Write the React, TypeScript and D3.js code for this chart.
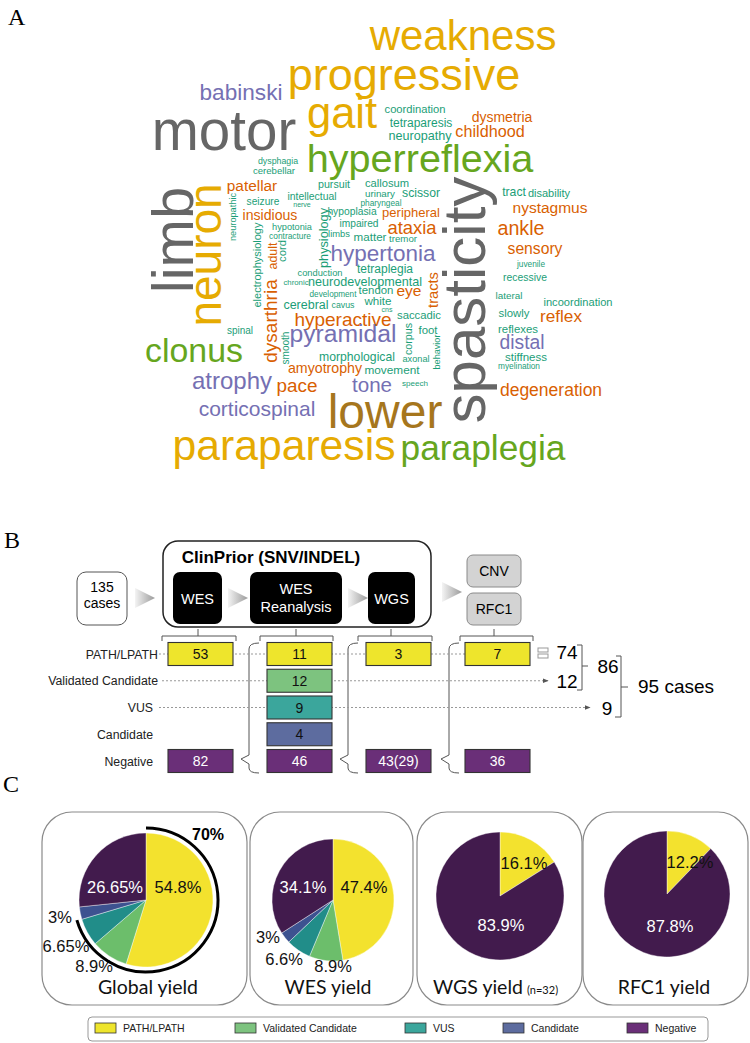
import React from "react";
import * as d3 from "d3";

const WIDTH = 750;
const HEIGHT = 1043;

// ---------------- Panel A : word cloud ----------------
const cloudWords = [
  "weakness", "progressive", "babinski", "motor", "gait", "hyperreflexia", "coordination", "tetraparesis",
  "neuropathy", "dysmetria", "childhood", "dysphagia", "cerebellar", "patellar", "pursuit", "callosum",
  "urinary", "scissor", "tract", "disability", "seizure", "intellectual", "nerve", "pharyngeal",
  "neuropathic", "insidious", "hypoplasia", "peripheral", "nystagmus", "impaired", "ataxia", "ankle",
  "hypotonia", "contracture", "physiology", "limbs", "matter", "tremor", "sensory", "hypertonia",
  "electrophysiology", "adult", "dysarthria", "cord", "juvenile", "tetraplegia", "conduction", "recessive",
  "chronic", "neurodevelopmental", "tracts", "development", "tendon", "eye", "lateral", "cerebral",
  "cavus", "white", "cns", "incoordination", "slowly", "reflex", "hyperactive", "saccadic",
  "spinal", "reflexes", "corpus", "foot", "behavior", "smooth", "pyramidal", "distal",
  "clonus", "morphological", "axonal", "stiffness", "myelination", "amyotrophy", "movement", "atrophy",
  "pace", "tone", "speech", "degeneration", "corticospinal", "lower", "paraparesis", "paraplegia",
  "limb", "neuron", "spasticity",
];
const cloudWeights = [
  42, 45, 22.6, 56.5, 43.5, 39.6, 11.2, 12,
  12.6, 14, 16.2, 8.8, 9.6, 15.4, 10.7, 11.2,
  9.8, 12.2, 12.2, 11, 10.2, 10.4, 7, 8.3,
  9.2, 14.1, 10.3, 13, 15.5, 10.2, 18.4, 19.7,
  9.2, 8.4, 12.7, 9.4, 11.6, 9.7, 15.7, 22.5,
  11, 12.5, 19, 11.3, 8.3, 12, 9.3, 10.4,
  7.8, 12.6, 14.7, 8.2, 11.4, 15.5, 9.9, 12.5,
  8.8, 11.6, 7, 11.1, 11.4, 17.2, 19, 11.3,
  10, 11.4, 10.7, 11.4, 9.1, 10, 24.7, 19.3,
  33.9, 12.2, 9.2, 11.5, 8.3, 14.2, 11.8, 24,
  18.9, 20.6, 8.1, 17.5, 21, 48, 42.7, 35.3,
  58, 46, 60,
];
const cloudGroups = [
  "gold", "gold", "purple", "gray", "gold", "green", "teal", "teal",
  "teal", "orange", "orange", "teal", "teal", "orange", "teal", "teal",
  "teal", "teal", "teal", "teal", "teal", "teal", "teal", "teal",
  "teal", "orange", "teal", "orange", "orange", "teal", "orange", "orange",
  "teal", "teal", "teal", "teal", "teal", "teal", "orange", "purple",
  "teal", "orange", "orange", "teal", "teal", "teal", "teal", "teal",
  "teal", "teal", "orange", "teal", "teal", "orange", "teal", "teal",
  "teal", "teal", "teal", "teal", "teal", "orange", "orange", "teal",
  "teal", "teal", "teal", "teal", "teal", "teal", "purple", "purple",
  "green", "teal", "teal", "teal", "teal", "orange", "teal", "purple",
  "orange", "purple", "teal", "orange", "purple", "brown", "gold", "green",
  "gray", "gold", "gray",
];
// cloud layout (word centre x, baseline y, rotation)
const cloudX = [
  463, 404, 241, 224, 342, 420, 415, 421,
  420, 502, 490, 278, 274, 252, 334, 387,
  380, 421, 514, 549, 263, 312, 302, 381,
  236, 270, 352, 411, 550, 359, 412, 521,
  292, 290, 328, 339, 370, 403, 535, 383,
  261, 277, 277, 286, 531, 385, 320, 525,
  296, 365, 438, 333, 376, 409, 509, 306,
  343, 378, 387, 578, 514, 561, 343, 419,
  240, 518, 412, 428, 440, 289, 343, 522,
  194, 357, 416, 526, 519, 325, 392, 232,
  297, 372, 415, 551, 257, 385, 284, 483,
  193, 221, 485,
];
const cloudY = [
  50, 90, 100, 150, 128, 172, 113, 127,
  140, 122, 137, 164, 174, 191, 188, 187,
  197, 197, 196, 197, 205, 200, 207, 206,
  217, 220, 215, 217, 213, 227, 234, 235,
  230, 239, 238, 237, 241, 242, 254, 261,
  265, 256, 321, 251, 267, 273, 276, 281,
  285, 286, 290, 297, 294, 296, 299, 309,
  308, 305, 312, 306, 317, 322, 326, 319,
  334, 333, 339, 334, 352, 348, 342, 349,
  362, 361, 362, 361, 369, 373, 374, 389,
  392, 392, 386, 396, 416, 428, 460, 460,
  240, 255, 300,
];
const cloudRotate = [
  0, 0, 0, 0, 0, 0, 0, 0,
  0, 0, 0, 0, 0, 0, 0, 0,
  0, 0, 0, 0, 0, 0, 0, 0,
  -90, 0, 0, 0, 0, 0, 0, 0,
  0, 0, -90, 0, 0, 0, 0, 0,
  -90, -90, -90, -90, 0, 0, 0, 0,
  0, 0, -90, 0, 0, 0, 0, 0,
  0, 0, 0, 0, 0, 0, 0, 0,
  0, 0, -90, 0, -90, -90, 0, 0,
  0, 0, 0, 0, 0, 0, 0, 0,
  0, 0, 0, 0, 0, 0, 0, 0,
  -90, -90, -90,
];
const groupNames = ["gray", "gold", "brown", "green", "purple", "orange", "teal"];
const groupColors = ["#666666", "#E6AB02", "#A6761D", "#66A61E", "#7570B3", "#D95F02", "#1B9E77"];

// ---------------- Panel B : pipeline ----------------
const initialCases = 135;
const pipelineTitle = "ClinPrior (SNV/INDEL)";
const resultClasses = ["PATH/LPATH", "Validated Candidate", "VUS", "Candidate", "Negative"];
const stageNames = ["WES", "WES Reanalysis", "WGS", "CNV/RFC1"];
const pathCounts = ["53", "11", "3", "7"];
const validatedCounts = ["", "12", "", ""];
const vusCounts = ["", "9", "", ""];
const candidateCounts = ["", "4", "", ""];
const negativeCounts = ["82", "46", "43(29)", "36"];
const solvedTotals = [74, 12, 9];
const subTotal = 86;
const totalCases = 95;

// ---------------- Panel C : yields ----------------
const yieldTitles = ["Global yield", "WES yield", "WGS yield", "RFC1 yield"];
const globalYield = [54.8, 8.9, 6.65, 3, 26.65];
const wesYield = [47.4, 8.9, 6.6, 3, 34.1];
const wgsYield = [16.1, 0, 0, 0, 83.9];
const rfc1Yield = [12.2, 0, 0, 0, 87.8];
const globalHighlight = 70;
const wgsN = 32;

const pieColors = ["#F3E22E", "#6CBE6B", "#218D89", "#3D5290", "#421B4D"];
const boxColors = ["#EEE52C", "#7DC37F", "#3BA69C", "#5D6C9F", "#6A2F78"];

// label layout (offset from pie centre)
const pieLabelDx = [
  [32, -52, -80, -86, -31],
  [31, 0, -49, -65, -30],
  [24, 0, 0, 0, 1],
  [23, 0, 0, 0, 3],
];
const pieLabelDy = [
  [-7, 72, 52, 23, -7],
  [-7, 72, 65, 43, -7],
  [-27, 0, 0, 0, 35],
  [-26, 0, 0, 0, 38],
];

const SANS = "'Liberation Sans', Arial, sans-serif";
const SERIF = "'Liberation Serif', 'Times New Roman', serif";
const CAL = "Lato, 'Open Sans', sans-serif";

function WordCloud() {
  const size = d3.scaleLinear().domain([0, 60]).range([0, 60]);
  const color = d3.scaleOrdinal<string, string>().domain(groupNames).range(groupColors);
  return (
    <g>
      {cloudWords.map((w, i) => (
        <text
          key={w}
          transform={`translate(${cloudX[i]},${cloudY[i]}) rotate(${cloudRotate[i]})`}
          textAnchor="middle"
          fontFamily={SANS}
          fontSize={size(cloudWeights[i])}
          fill={color(cloudGroups[i])}
        >
          {w}
        </text>
      ))}
    </g>
  );
}

function Pipeline() {
  const colX = d3.scaleLinear().domain([0, 3]).range([168, 465]);
  const boxW = 65;
  const boxH = 23;
  const rowY = d3.scalePoint<string>().domain(resultClasses).range([654, 761]);
  const rows = [pathCounts, validatedCounts, vusCounts, candidateCounts, negativeCounts];
  const stageBoxes = [
    { x: 173, w: 49 },
    { x: 250, w: 92 },
    { x: 368, w: 47 },
  ];
  const arrows = [135, 228, 348];
  const braceCx = [198, 296, 391, 494];
  const braceX = [[162, 236], [260, 333], [358, 432], [460, 533]];
  const curlyX = [249, 348, 449];
  const arrowTri = (x: number, cy: number) => `M${x},${cy - 10}L${x + 20},${cy}L${x},${cy + 10}Z`;
  const yPath = rowY("PATH/LPATH")!;
  const yVal = rowY("Validated Candidate")!;
  const yVus = rowY("VUS")!;
  const yNeg = rowY("Negative")!;
  return (
    <g fontFamily={SANS}>
      <defs>
        <linearGradient id="arrowGrad" x1="0" x2="1" y1="0" y2="0">
          <stop offset="0" stopColor="#f4f4f4" />
          <stop offset="1" stopColor="#9a9a9a" />
        </linearGradient>
        <marker id="dotArrow" viewBox="0 0 10 10" refX="9" refY="5" markerWidth="6" markerHeight="6" orient="auto">
          <path d="M0,1L10,5L0,9Z" fill="#555" />
        </marker>
      </defs>
      {/* initial cases */}
      <rect x={77} y={572} width={50} height={53} rx={9} fill="#fff" stroke="#555" strokeWidth={1} />
      <text x={102} y={592} textAnchor="middle" fontSize={14}>{initialCases}</text>
      <text x={102} y={608} textAnchor="middle" fontSize={14}>cases</text>
      {/* clinprior frame */}
      <rect x={163} y={541} width={268} height={86} rx={15} fill="none" stroke="#222" strokeWidth={1.5} />
      <text x={271} y={563} textAnchor="middle" fontSize={17} fontWeight="bold">{pipelineTitle}</text>
      {arrows.map((x) => (
        <path key={x} d={arrowTri(x, 598)} fill="url(#arrowGrad)" />
      ))}
      <path d={arrowTri(442, 592)} fill="url(#arrowGrad)" />
      {stageBoxes.map((b, i) => (
        <rect key={i} x={b.x} y={572} width={b.w} height={52} rx={7} fill="#000" />
      ))}
      <text x={197.5} y={604} textAnchor="middle" fontSize={14.5} fill="#fff">{stageNames[0]}</text>
      <text x={296} y={594} textAnchor="middle" fontSize={14.5} fill="#fff">{stageNames[1].split(" ")[0]}</text>
      <text x={296} y={612} textAnchor="middle" fontSize={14.5} fill="#fff">{stageNames[1].split(" ")[1]}</text>
      <text x={391.5} y={604} textAnchor="middle" fontSize={14.5} fill="#fff">{stageNames[2]}</text>
      {/* CNV / RFC1 */}
      <rect x={467} y={555} width={54} height={32} rx={6} fill="#d3d3d3" stroke="#8a8a8a" />
      <rect x={467} y={593} width={54} height={32} rx={6} fill="#d3d3d3" stroke="#8a8a8a" />
      <text x={494} y={576} textAnchor="middle" fontSize={14}>{stageNames[3].split("/")[0]}</text>
      <text x={494} y={614} textAnchor="middle" fontSize={14}>{stageNames[3].split("/")[1]}</text>
      {/* over-braces */}
      {braceX.map(([a, b], i) => (
        <path key={i} d={`M${a},641L${a},636L${b},636L${b},641M${braceCx[i]},636L${braceCx[i]},629`} fill="none" stroke="#555" strokeWidth={1} />
      ))}
      {/* curly braces */}
      {curlyX.map((x) => (
        <path
          key={x}
          d={`M${x + 10},643Q${x},643 ${x},649L${x},755L${x - 8},${yNeg - 2}L${x},${yNeg + 3}L${x},768Q${x},773 ${x + 10},773`}
          fill="none"
          stroke="#555"
          strokeWidth={1}
        />
      ))}
      {/* dotted guide lines */}
      <line x1={159} x2={465} y1={yPath} y2={yPath} stroke="#999" strokeDasharray="2,2" />
      <line x1={162} x2={548} y1={yVal} y2={yVal} stroke="#999" strokeDasharray="2,2" markerEnd="url(#dotArrow)" />
      <line x1={159} x2={590} y1={yVus} y2={yVus} stroke="#999" strokeDasharray="2,2" markerEnd="url(#dotArrow)" />
      {/* row labels */}
      {resultClasses.map((c) => (
        <text key={c} x={c === "PATH/LPATH" || c === "Validated Candidate" ? 158 : 153} y={rowY(c)! + 4.5} textAnchor="end" fontSize={12.3} fill="#222">
          {c}
        </text>
      ))}
      {/* count boxes */}
      {rows.map((row, r) =>
        row.map((v, c) =>
          v === "" ? null : (
            <g key={`${r}-${c}`}>
              <rect
                x={colX(c)}
                y={rowY(resultClasses[r])! - boxH / 2}
                width={boxW}
                height={boxH}
                fill={boxColors[r]}
                stroke="#333"
                strokeWidth={1.1}
              />
              <text
                x={colX(c) + boxW / 2}
                y={rowY(resultClasses[r])! + 5}
                textAnchor="middle"
                fontSize={14}
                fill={r === 4 ? "#fff" : "#111"}
              >
                {v}
              </text>
            </g>
          )
        )
      )}
      {/* totals */}
      <rect x={538} y={648} width={10} height={4} fill="#fff" stroke="#999" strokeWidth={1} />
      <rect x={538} y={654} width={10} height={4} fill="#fff" stroke="#999" strokeWidth={1} />
      <text x={567} y={659} textAnchor="middle" fontSize={19}>{solvedTotals[0]}</text>
      <text x={567} y={688} textAnchor="middle" fontSize={19}>{solvedTotals[1]}</text>
      <text x={607} y={715} textAnchor="middle" fontSize={19}>{solvedTotals[2]}</text>
      <path d="M577,645L582,645L582,690L577,690M582,666L588,666" fill="none" stroke="#555" />
      <text x={608} y={673} textAnchor="middle" fontSize={19}>{subTotal}</text>
      <path d="M616,656L621,656L621,717L615,717M621,687L628,687" fill="none" stroke="#555" />
      <text x={638} y={693} fontSize={19}>{`${totalCases} cases`}</text>
    </g>
  );
}

function Yields() {
  const datasets = [globalYield, wesYield, wgsYield, rfc1Yield];
  const centers = [
    [146, 900, 67],
    [333, 900, 61],
    [500, 896, 64],
    [667, 894, 63],
  ];
  const frames = [
    [42, 205],
    [250, 163],
    [417, 165],
    [583, 165],
  ];
  const titleX = [148, 328, 478, 664];
  const pie = d3.pie<number>().sort(null).value((d) => d);
  const hl = d3.arc<any>()
    .innerRadius(72)
    .outerRadius(72)
    .startAngle(0)
    .endAngle((globalHighlight / 100) * 2 * Math.PI + 0.03);
  const legendX = [95, 235, 405, 503, 627];
  return (
    <g>
      {frames.map(([x, w], i) => (
        <rect key={i} x={x} y={812} width={w} height={193} rx={30} fill="#fff" stroke="#8a8a8a" strokeWidth={1.2} />
      ))}
      {datasets.map((data, i) => {
        const [cx, cy, r] = centers[i];
        const arc = d3.arc<d3.PieArcDatum<number>>().innerRadius(0).outerRadius(r);
        const arcs = pie(data);
        return (
          <g key={i} transform={`translate(${cx},${cy})`}>
            {arcs.map((a, j) =>
              a.value > 0 ? <path key={j} d={arc(a)!} fill={pieColors[j]} stroke="#fff" strokeWidth={0.4} /> : null
            )}
            {arcs.map((a, j) =>
              a.value > 0 ? (
                <text
                  key={`t${j}`}
                  x={pieLabelDx[i][j]}
                  y={pieLabelDy[i][j]}
                  textAnchor="middle"
                  fontFamily={SANS}
                  fontSize={16.5}
                  fill={j === 4 ? "#fff" : "#111"}
                >
                  {`${a.value}%`}
                </text>
              ) : null
            )}
            {i === 0 ? (
              <>
                <path d={hl(null)!} fill="none" stroke="#000" strokeWidth={3} />
                <text x={62} y={-60} textAnchor="middle" fontFamily={SANS} fontSize={16} fontWeight="bold">
                  {`${globalHighlight}%`}
                </text>
              </>
            ) : null}
          </g>
        );
      })}
      {yieldTitles.map((t, i) => (
        <text key={t} x={titleX[i]} y={994} textAnchor="middle" fontFamily={CAL} fontSize={19.5} fill="#111">
          {t}
        </text>
      ))}
      <text x={527} y={994} fontFamily={CAL} fontSize={11} fill="#111">{`(n=${wgsN})`}</text>
      {/* legend */}
      <rect x={88} y={1017} width={620} height={24} rx={4} fill="#fff" stroke="#999" strokeWidth={1} />
      {resultClasses.map((c, i) => (
        <g key={c}>
          <rect x={legendX[i]} y={1023} width={21} height={10} fill={boxColors[i]} stroke="#333" strokeWidth={0.8} />
          <text x={legendX[i] + 28} y={1032} fontFamily={SANS} fontSize={10.5} fill="#222">{c}</text>
        </g>
      ))}
    </g>
  );
}

export default function App() {
  return (
    <svg
      width={WIDTH}
      height={HEIGHT}
      viewBox={`0 0 ${WIDTH} ${HEIGHT}`}
      style={{ position: "absolute", left: 0, top: 0, background: "#fff" }}
    >
      <rect width={WIDTH} height={HEIGHT} fill="#fff" />
      <text x={8} y={25} fontFamily={SERIF} fontSize={24}>A</text>
      <text x={4} y={548} fontFamily={SERIF} fontSize={24}>B</text>
      <text x={3} y={792} fontFamily={SERIF} fontSize={24}>C</text>
      <WordCloud />
      <Pipeline />
      <Yields />
    </svg>
  );
}
